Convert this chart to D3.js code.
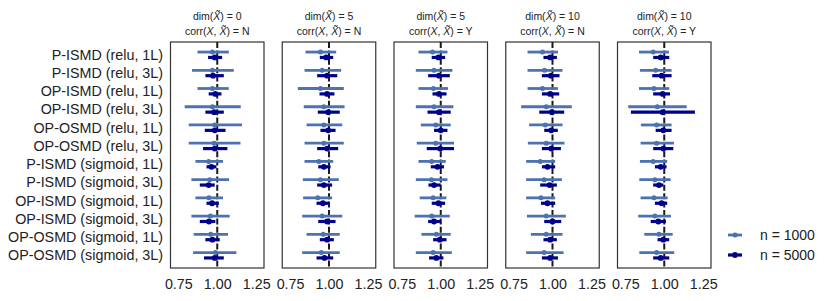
<!DOCTYPE html>
<html><head><meta charset="utf-8">
<script src="https://cdn.jsdelivr.net/npm/d3@7"></script>
<style>body{margin:0;background:#fff}svg{display:block}</style>
</head><body>
<svg id="c" width="830" height="301"></svg>
<script>
const categories = ["P-ISMD (relu, 1L)","P-ISMD (relu, 3L)","OP-ISMD (relu, 1L)","OP-ISMD (relu, 3L)","OP-OSMD (relu, 1L)","OP-OSMD (relu, 3L)","P-ISMD (sigmoid, 1L)","P-ISMD (sigmoid, 3L)","OP-ISMD (sigmoid, 1L)","OP-ISMD (sigmoid, 3L)","OP-OSMD (sigmoid, 1L)","OP-OSMD (sigmoid, 3L)"];
const panelDim = ["0","5","5","10","10"];
const panelCorr = ["N","N","Y","N","Y"];
const seriesNames = ["n = 1000","n = 5000"];
const xTicks = [0.75, 1.00, 1.25];
// each entry: [lower, estimate, upper]
const p1_n1000 = [[0.873,0.969,1.074],[0.838,0.969,1.106],[0.873,0.969,1.074],[0.791,0.969,1.151],[0.817,0.984,1.159],[0.817,0.980,1.149],[0.860,0.945,1.037],[0.834,0.952,1.076],[0.860,0.947,1.037],[0.834,0.956,1.080],[0.849,0.958,1.069],[0.845,0.988,1.123]];
const p1_n5000 = [[0.941,0.984,1.031],[0.924,0.973,1.042],[0.945,0.988,1.027],[0.924,0.980,1.042],[0.920,0.984,1.053],[0.909,0.984,1.065],[0.931,0.963,0.995],[0.888,0.945,0.984],[0.931,0.967,1.010],[0.888,0.947,0.988],[0.924,0.969,1.016],[0.915,0.984,1.042]];
const p2_n1000 = [[0.849,0.945,1.046],[0.843,0.956,1.078],[0.800,0.945,1.095],[0.838,0.967,1.100],[0.856,0.967,1.085],[0.843,0.967,1.095],[0.843,0.935,1.027],[0.832,0.945,1.063],[0.834,0.928,1.020],[0.828,0.956,1.085],[0.856,0.963,1.069],[0.828,0.950,1.069]];
const p2_n5000 = [[0.941,0.982,1.027],[0.924,0.988,1.053],[0.939,0.988,1.035],[0.928,0.995,1.069],[0.945,0.995,1.042],[0.924,0.988,1.059],[0.931,0.967,1.010],[0.924,0.967,1.020],[0.920,0.961,0.999],[0.931,0.988,1.042],[0.941,0.988,1.031],[0.920,0.971,1.027]];
const p3_n1000 = [[0.857,0.947,1.043],[0.840,0.957,1.075],[0.857,0.953,1.047],[0.840,0.957,1.081],[0.872,0.968,1.064],[0.846,0.968,1.085],[0.857,0.942,1.032],[0.840,0.940,1.043],[0.865,0.951,1.036],[0.833,0.942,1.058],[0.876,0.972,1.064],[0.840,0.951,1.071]];
const p3_n5000 = [[0.942,0.985,1.028],[0.919,0.989,1.058],[0.947,0.989,1.037],[0.915,0.989,1.064],[0.957,1.000,1.043],[0.910,0.996,1.085],[0.936,0.979,1.021],[0.921,0.957,1.000],[0.942,0.985,1.028],[0.919,0.957,1.000],[0.951,0.994,1.037],[0.925,0.972,1.017]];
const p4_n1000 = [[0.840,0.936,1.035],[0.840,0.949,1.064],[0.840,0.936,1.035],[0.799,0.960,1.124],[0.850,0.953,1.064],[0.842,0.960,1.077],[0.831,0.921,1.017],[0.831,0.946,1.060],[0.831,0.926,1.017],[0.836,0.960,1.086],[0.861,0.960,1.064],[0.831,0.946,1.071]];
const p4_n5000 = [[0.942,0.985,1.028],[0.932,0.990,1.045],[0.932,0.985,1.043],[0.915,0.996,1.075],[0.947,0.992,1.034],[0.932,0.992,1.054],[0.932,0.968,1.017],[0.921,0.981,1.028],[0.926,0.968,1.017],[0.947,1.000,1.056],[0.942,0.985,1.028],[0.932,0.985,1.035]];
const p5_n1000 = [[0.838,0.929,1.030],[0.844,0.945,1.047],[0.838,0.934,1.032],[0.769,0.955,1.144],[0.850,0.951,1.047],[0.848,0.951,1.062],[0.844,0.929,1.019],[0.840,0.940,1.041],[0.848,0.934,1.022],[0.833,0.940,1.043],[0.872,0.966,1.054],[0.840,0.951,1.064]];
const p5_n5000 = [[0.929,0.977,1.032],[0.923,0.983,1.047],[0.929,0.990,1.037],[0.786,0.990,1.197],[0.945,0.994,1.047],[0.929,0.994,1.058],[0.940,0.977,1.015],[0.929,0.966,0.994],[0.940,0.983,1.019],[0.913,0.962,1.011],[0.957,0.994,1.032],[0.929,0.977,1.032]];

const panels = [[p1_n1000,p1_n5000],[p2_n1000,p2_n5000],[p3_n1000,p3_n5000],[p4_n1000,p4_n5000],[p5_n1000,p5_n5000]];
const colors = ["#4c72b0","#00008b"];
const font = "'Liberation Sans', Arial, sans-serif";

const svg = d3.select("#c");
const plotTop = 42, plotBottom = 268, pw = 93.5, firstLeft = 170.5, step = 111.75;
const y = d3.scaleLinear().domain([-0.7, 11.7]).range([plotTop, plotBottom]);
const offs = [-2.7, 2.7];
const widths = [2.8, 3.2];
const radii = [2.5, 2.9];

svg.append("g").selectAll("text").data(categories).join("text")
  .attr("x", 163).attr("y", (d,i)=>y(i)).attr("dy","0.35em")
  .attr("text-anchor","end").attr("font-family",font).attr("font-size",14.3).attr("fill","#222")
  .text(d=>d);

panels.forEach((series, pi) => {
  const left = firstLeft + pi*step;
  const x = d3.scaleLinear().domain([0.7,1.3]).range([left, left+pw]);
  const g = svg.append("g");
  g.append("rect").attr("x",left).attr("y",plotTop).attr("width",pw).attr("height",plotBottom-plotTop)
    .attr("fill","none").attr("stroke","#333").attr("stroke-width",1.2);
  g.append("line").attr("x1",x(1)).attr("x2",x(1)).attr("y1",plotTop).attr("y2",plotBottom)
    .attr("stroke","#1a1a1a").attr("stroke-width",2).attr("stroke-dasharray","6,2.4");
  series.forEach((data, si) => {
    const sg = g.append("g");
    sg.selectAll("line").data(data).join("line")
      .attr("x1",d=>x(d[0])).attr("x2",d=>x(d[2]))
      .attr("y1",(d,i)=>y(i)+offs[si]).attr("y2",(d,i)=>y(i)+offs[si])
      .attr("stroke",colors[si]).attr("stroke-width",widths[si]);
    sg.selectAll("circle").data(data).join("circle")
      .attr("cx",d=>x(d[1])).attr("cy",(d,i)=>y(i)+offs[si]).attr("r",radii[si])
      .attr("fill",colors[si]);
  });
  const ax = d3.axisBottom(x).tickValues(xTicks).tickFormat(d3.format(".2f")).tickSize(0).tickPadding(0);
  const axg = svg.append("g").attr("transform",`translate(0,${plotBottom})`).call(ax);
  axg.select(".domain").remove();
  axg.selectAll("text").attr("y",11).attr("dy","0.71em").attr("font-family",font).attr("font-size",14.3).attr("fill","#222");
  const cx = left + pw/2;
  const t1 = svg.append("text").attr("x",cx).attr("y",20).attr("text-anchor","middle")
    .attr("font-family",font).attr("font-size",10.5).attr("fill","#222");
  t1.append("tspan").text("dim(");
  t1.append("tspan").attr("font-style","italic").text("X\u0303");
  t1.append("tspan").text(") = " + panelDim[pi]);
  const t2 = svg.append("text").attr("x",cx).attr("y",34.5).attr("text-anchor","middle")
    .attr("font-family",font).attr("font-size",10.5).attr("fill","#222");
  t2.append("tspan").text("corr(");
  t2.append("tspan").attr("font-style","italic").text("X");
  t2.append("tspan").text(", ");
  t2.append("tspan").attr("font-style","italic").text("X\u0303");
  t2.append("tspan").text(") = " + panelCorr[pi]);
});

const lg = svg.append("g");
seriesNames.forEach((name, si) => {
  const ly = 235 + si*20;
  lg.append("line").attr("x1",728).attr("x2",742).attr("y1",ly).attr("y2",ly)
    .attr("stroke",colors[si]).attr("stroke-width",widths[si]);
  lg.append("circle").attr("cx",735).attr("cy",ly).attr("r",radii[si]).attr("fill",colors[si]);
  lg.append("text").attr("x",760).attr("y",ly).attr("dy","0.35em")
    .attr("font-family",font).attr("font-size",14).attr("fill","#222").text(name);
});
</script>
</body></html>
